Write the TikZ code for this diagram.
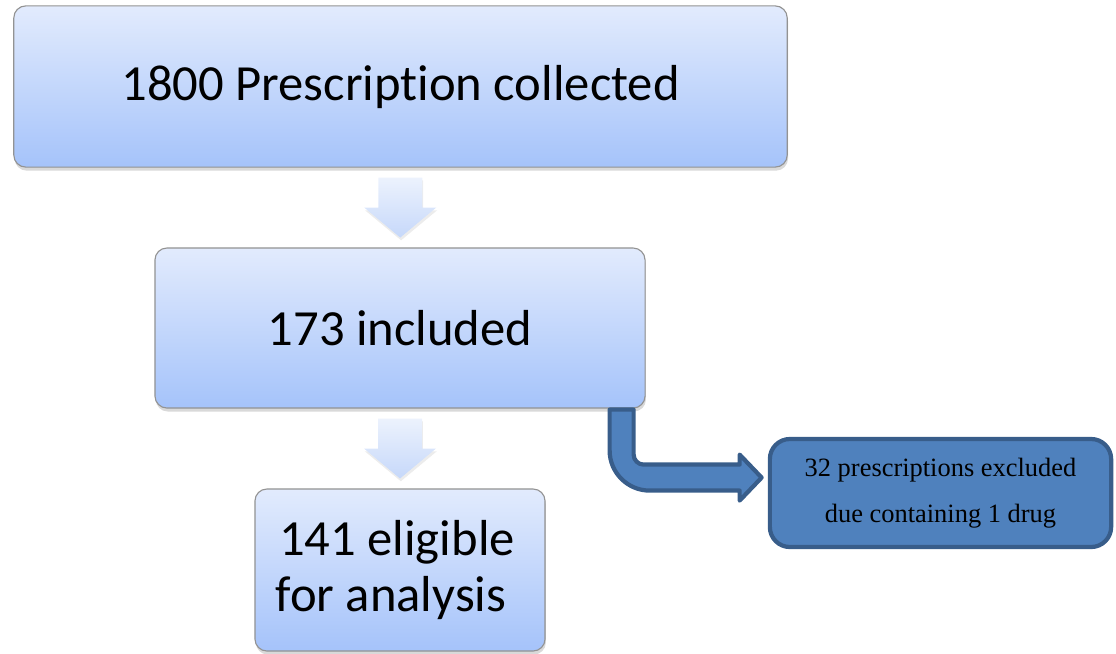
\documentclass[tikz,border=0pt]{standalone}
\usepackage{fontspec}
\setmainfont{Carlito}[RawFeature={-liga;-dlig;-calt}]
\newfontfamily\timesfont{Liberation Serif}
\usetikzlibrary{shadows,calc}

\definecolor{boxtop}{RGB}{226,235,253}
\definecolor{boxbottom}{RGB}{165,195,250}
\definecolor{arrowtop}{RGB}{236,242,253}
\definecolor{arrowbottom}{RGB}{198,216,250}
\definecolor{exclfill}{RGB}{79,129,189}
\definecolor{excldraw}{RGB}{56,93,138}

\tikzset{
  stagebox/.style={draw=gray!85, line width=0.8pt, rounded corners=0.3cm,
    top color=boxtop, bottom color=boxbottom, align=center, inner sep=0pt,
    font=\fontsize{36}{40.4}\selectfont,
    drop shadow={opacity=0.3, shadow xshift=0.6pt, shadow yshift=-2.5pt}},
  downarrow/.style={top color=arrowtop, bottom color=arrowbottom,
    drop shadow={opacity=0.15, shadow xshift=0.6pt, shadow yshift=-2pt}},
  exclbox/.style={draw=excldraw, fill=exclfill, line width=3pt,
    rounded corners=0.5cm, align=center, inner sep=0pt,
    font=\timesfont\fontsize{18.8}{33}\selectfont},
  bentarrow/.style={draw=excldraw, fill=exclfill, line width=3pt, line join=round}
}

\begin{document}
\begin{tikzpicture}[x=0.025cm, y=-0.025cm]

  \useasboundingbox (0,0) rectangle (1116,653);

  % the three stages
  \node[stagebox, minimum width=19.33cm, minimum height=4.03cm] (collected)
    at (400.5,86.5) {1800 Prescription collected};
  \node[stagebox, minimum width=12.25cm, minimum height=4cm] (included)
    at (400,328) {173 included};
  \node[stagebox, minimum width=7.25cm, minimum height=4.05cm] (eligible)
    at (400,570) {\hspace*{-0.15cm}141 eligible\\\hspace*{-0.45cm}for analysis};

  % fat arrows between the stages
  \coordinate (mid1) at ($(collected.south)!0.5!(included.north)$);
  \coordinate (mid2) at ($(included.south)!0.5!(eligible.north)$);
  \foreach \m in {mid1,mid2}
    \path[downarrow] ($(\m)+(-22,-30)$) -- ++(44,0) -- ++(0,30) -- ++(14,0)
      -- ++(-36,30) -- ++(-36,-30) -- ++(14,0) -- cycle;

  % excluded prescriptions
  \node[exclbox, minimum width=8.53cm, minimum height=2.7cm] (excluded)
    at (940.5,493) {\raisebox{-0.1cm}{32 prescriptions excluded}\\
      \raisebox{-0.1cm}{due containing 1 drug}};

  % bent arrow from included to excluded
  \draw[bentarrow] ($(included.south east)+(-36,1)$)
    -- ++(0,41) .. controls +(0,22) and +(-22,0) .. ++(40,40)
    -- ++(90,0) -- ++(0,10) -- ++(22,-23) -- ++(-22,-23) -- ++(0,10)
    -- ++(-96,0) .. controls +(-5.5,0) and +(0,5.5) .. ++(-10,-10)
    -- ++(0,-45) -- cycle;

\end{tikzpicture}
\end{document}
